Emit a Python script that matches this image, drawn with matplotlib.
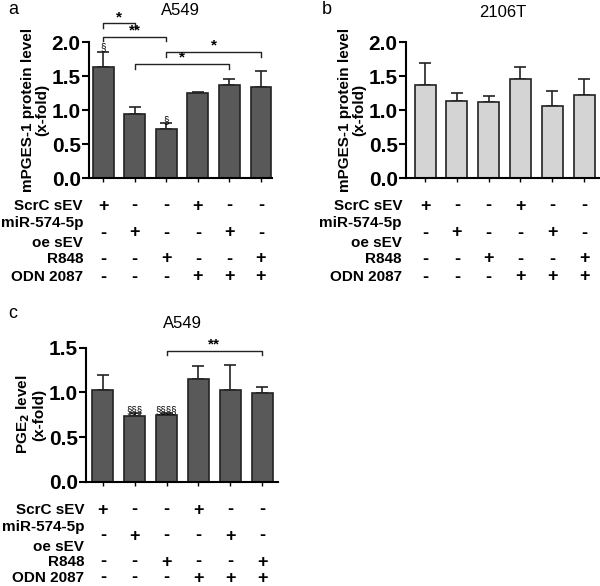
import matplotlib
matplotlib.use("Agg")
import matplotlib.pyplot as plt
from matplotlib.transforms import blended_transform_factory

plt.rcParams['font.family'] = ['Liberation Sans', 'DejaVu Sans']

# treatment table
row_labels = ['ScrC sEV', 'miR-574-5p', 'oe sEV', 'R848', 'ODN 2087']
scrc = ['+', '-', '-', '+', '-', '-']
mir = ['-', '+', '-', '-', '+', '-']
r848 = ['-', '-', '+', '-', '-', '+']
odn = ['-', '-', '-', '+', '+', '+']

# panel a: mPGES-1 A549
a_mean = [1.64, 0.94, 0.72, 1.26, 1.37, 1.345]
a_err = [0.22, 0.105, 0.09, 0.01, 0.085, 0.235]
# panel b: mPGES-1 2106T
b_mean = [1.37, 1.135, 1.12, 1.455, 1.055, 1.22]
b_err = [0.33, 0.125, 0.095, 0.175, 0.225, 0.24]
# panel c: PGE2 A549
c_mean = [1.03, 0.735, 0.746, 1.153, 1.03, 0.996]
c_err = [0.16, 0.035, 0.02, 0.147, 0.28, 0.067]

# significance: (bar1, bar2, height, label)
a_sig = [(0, 1, 2.28, '*'), (0, 2, 2.083, '*' * 2), (2, 5, 1.853, '*'), (1, 4, 1.676, '*')]
c_sig = [(2, 5, 1.466, '*' * 2)]
a_marks = [(0, 1.93, '§'), (2, 0.86, '§')]
c_marks = [(1, 0.80, '§§§'), (2, 0.80, '§§§§')]

fig = plt.figure(figsize=(6, 5.86), dpi=100)
W, H = 600, 586


def panel(rect, mean, err, color, ylim, yticks, ylabel, xlim):
    ax = fig.add_axes(rect)
    x = list(range(len(mean)))
    ax.bar(x, mean, width=0.66, color=color, edgecolor='#222222', linewidth=1.2, zorder=2)
    ax.errorbar(x, mean, yerr=[[0] * len(err), err], fmt='none', ecolor='#222222',
                elinewidth=1.2, capsize=4, capthick=1.2, zorder=1)
    ax.set_ylim(*ylim)
    ax.set_xlim(*xlim)
    ax.set_yticks(yticks)
    ax.set_yticklabels(['%.1f' % t for t in yticks], fontsize=15, fontweight='bold')
    ax.set_xticks(x)
    ax.set_xticklabels([])
    ax.tick_params(axis='x', direction='out', length=3, width=1)
    ax.tick_params(axis='y', direction='out', length=5, width=1.5, pad=1)
    for s in ['top', 'right']:
        ax.spines[s].set_visible(False)
    for s in ['left', 'bottom']:
        ax.spines[s].set_linewidth(1.5)
    ax.set_ylabel(ylabel, fontsize=11, fontweight='bold', labelpad=2, linespacing=1.0)
    return ax


def table(ax, label_ys, sym_ys, label_x):
    tr = blended_transform_factory(ax.transData, fig.transFigure)
    rows = [scrc, mir, r848, odn]
    for lab, y in zip(row_labels, label_ys):
        fig.text(label_x / W, 1 - y / H, lab, ha='right', va='center', fontsize=11,
                 fontweight='bold')
    for vals, y in zip(rows, sym_ys):
        for i, v in enumerate(vals):
            ax.text(i, 1 - y / H, v, transform=tr, ha='center', va='center',
                    fontsize=13, fontweight='bold')


def brackets(ax, sig, drop):
    for i, j, h, lab in sig:
        ax.plot([i, i, j, j], [h - drop, h, h, h - drop], color='#222222', lw=1, clip_on=False)
        ax.text((i + j) / 2, h - 0.01, lab, ha='center', va='bottom', fontsize=11,
                fontweight='bold', clip_on=False)


# panel a
ax_a = panel([89 / W, 1 - 178 / H, 183 / W, 135.7 / H], a_mean, a_err, '#595959',
             (0, 2.0), [0, 0.5, 1.0, 1.5, 2.0], 'mPGES-1 protein level\n(x-fold)', (-0.45, 5.35))
brackets(ax_a, a_sig, 0.065)
for i, h, lab in a_marks:
    ax_a.text(i, h, lab, ha='center', va='center', fontsize=7, clip_on=False)
ax_a.set_title('A549', fontsize=12, pad=20)
table(ax_a, [206, 223, 243, 259, 277], [206, 233, 259, 277], 83)

# panel b
ax_b = panel([406 / W, 1 - 178 / H, 194 / W, 135.7 / H], b_mean, b_err, '#d4d4d4',
             (0, 2.0), [0, 0.5, 1.0, 1.5, 2.0], 'mPGES-1 protein level\n(x-fold)', (-0.6, 5.5))
ax_b.set_title('2106T', fontsize=12, pad=18)
table(ax_b, [206, 223, 243, 259, 277], [206, 233, 259, 277], 402)

# panel c
ax_c = panel([86 / W, 1 - 481.7 / H, 192 / W, 134 / H], c_mean, c_err, '#595959',
             (0, 1.5), [0, 0.5, 1.0, 1.5], 'PGE$_\\mathbf{2}$ level\n(x-fold)', (-0.53, 5.5))
brackets(ax_c, c_sig, 0.045)
for i, h, lab in c_marks:
    ax_c.text(i, h, lab, ha='center', va='center', fontsize=7, clip_on=False)
ax_c.set_title('A549', fontsize=12, pad=14)
table(ax_c, [510, 527, 547, 562, 578], [510, 536, 562, 578], 84)

fig.text(8 / W, 1 - 10 / H, 'a', fontsize=13, va='center')
fig.text(322 / W, 1 - 10 / H, 'b', fontsize=13, va='center')
fig.text(8 / W, 1 - 313 / H, 'c', fontsize=13, va='center')

fig.savefig('out.png', dpi=100, facecolor='white')
